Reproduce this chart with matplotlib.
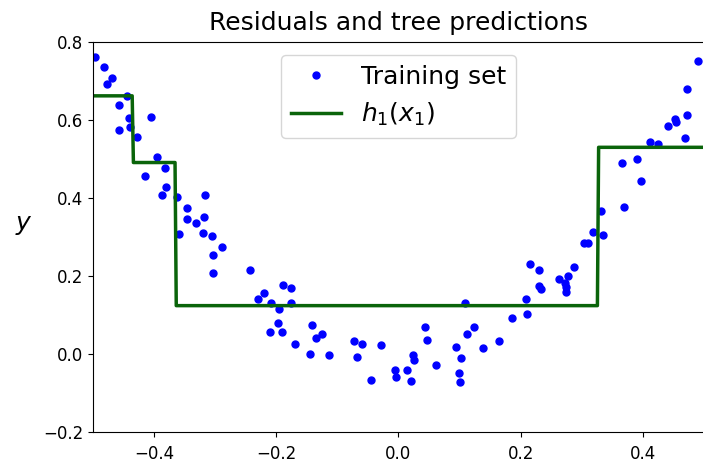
import matplotlib
matplotlib.use('Agg')
import matplotlib.pyplot as plt
import numpy as np

# training points
x1 = [-0.4965, -0.4818, -0.4682, -0.4774, -0.4447, -0.4568, -0.4404, -0.4049,
      -0.4577, -0.4388, -0.4273, -0.3946, -0.3825, -0.4142, -0.3804, -0.3869,
      -0.3619, -0.3166, -0.3455, -0.3455, -0.3308, -0.3182, -0.3596, -0.3203,
      -0.3056, -0.3040, -0.2892, -0.3030, -0.2425, -0.1894, -0.1759, -0.2196,
      -0.2303, -0.2091, -0.1759, -0.1960, -0.1971, -0.1415, -0.2097, -0.1901,
      -0.1256, -0.1345, -0.1693, -0.1443, -0.1132, -0.0728, -0.0597, -0.0679,
      -0.0281, -0.0445, -0.0052, -0.0041, 0.0144, 0.0200, 0.0232, 0.0254,
      0.0438, 0.0466, 0.0618, 0.0936, 0.1022, 0.0985, 0.1001, 0.1083,
      0.1126, 0.1240, 0.1382, 0.1639, 0.1857, 0.2097, 0.2086, 0.2146,
      0.2303, 0.2303, 0.2336, 0.2626, 0.2768, 0.2724, 0.2735, 0.2735,
      0.2876, 0.4905, 0.4731, 0.4725, 0.4528, 0.4540, 0.4420, 0.4687,
      0.4119, 0.4250, 0.3902, 0.3652, 0.3967, 0.3684, 0.3318, 0.3346,
      0.3177, 0.3035, 0.3105]
y = [0.761, 0.737, 0.708, 0.692, 0.662, 0.638, 0.605, 0.609,
     0.575, 0.581, 0.556, 0.504, 0.477, 0.457, 0.429, 0.408,
     0.403, 0.408, 0.374, 0.345, 0.337, 0.351, 0.308, 0.310,
     0.303, 0.254, 0.274, 0.207, 0.215, 0.176, 0.170, 0.156,
     0.140, 0.132, 0.132, 0.116, 0.080, 0.074, 0.056, 0.057,
     0.052, 0.040, 0.026, -0.001, -0.003, 0.033, 0.026, -0.007,
     0.022, -0.066, -0.042, -0.059, -0.040, -0.070, -0.003, -0.015,
     0.069, 0.035, -0.027, 0.017, -0.010, -0.049, -0.072, 0.130,
     0.052, 0.069, 0.015, 0.033, 0.092, 0.103, 0.140, 0.232,
     0.215, 0.174, 0.166, 0.192, 0.200, 0.183, 0.173, 0.160,
     0.224, 0.752, 0.679, 0.613, 0.602, 0.594, 0.585, 0.555,
     0.543, 0.538, 0.500, 0.490, 0.444, 0.378, 0.366, 0.305,
     0.314, 0.284, 0.285]

# first tree: split thresholds and leaf values
thresholds = [-0.434, -0.364, 0.326]
leaf_values = [0.662, 0.491, 0.124, 0.530]

x_grid = np.linspace(-0.5, 0.5, 500)
h1 = np.array(leaf_values)[np.searchsorted(thresholds, x_grid)]

fig = plt.figure(figsize=(7.03, 4.67), dpi=100)
ax = fig.add_axes([0.1323, 0.075, 0.869, 0.835])
ax.plot(x1, y, "b.", markersize=10, label="Training set")
ax.plot(x_grid, h1, "-", color="#0a640a", linewidth=2.5, label="$h_1(x_1)$")
ax.axis([-0.5, 0.5, -0.2, 0.8])
ax.set_yticks([-0.2, 0.0, 0.2, 0.4, 0.6, 0.8])
ax.tick_params(labelsize=12)
ax.tick_params(axis='x', pad=6)
ax.set_ylabel("$y$", fontsize=18, rotation=0, labelpad=14)
ax.set_title("Residuals and tree predictions", fontsize=18, pad=9)
ax.legend(loc="upper center", fontsize=18)

plt.savefig('out.png', dpi=100)
